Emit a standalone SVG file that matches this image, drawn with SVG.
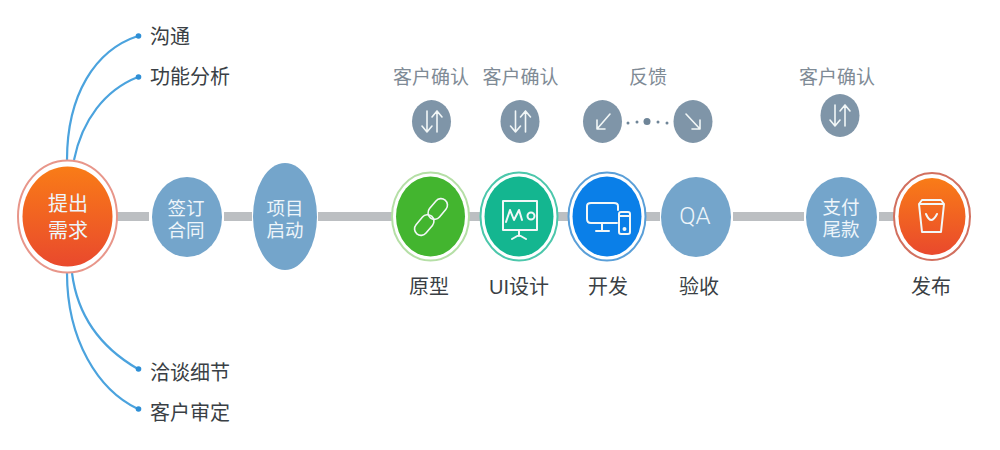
<svg xmlns="http://www.w3.org/2000/svg" width="1000" height="450" viewBox="0 0 1000 450">
<style>
text{font-family:"Liberation Sans","Noto Sans CJK SC",sans-serif;text-anchor:middle;dominant-baseline:central}
.dark{font-size:20px;fill:#3a3f45}
.grey{font-size:19px;fill:#7f8b96}
.wh{font-size:18.500px;fill:#eef5fa}
.left{text-anchor:start}
.bar{stroke:#bcbfc2;stroke-width:9;fill:none}
.cv{stroke:#4ba3de;stroke-width:2.200;fill:none}
.dot{fill:#2e8fd6}
.blue{fill:#74a5cb}
.sm{fill:#7f95a8}
.ic{stroke:#f2f7f7;stroke-width:2;fill:none;stroke-linecap:round;stroke-linejoin:round}
.ar{stroke-width:1.600}
.ring{fill:#fff;stroke-width:2}
</style>
<defs>
<linearGradient id="org" x1="0" y1="0" x2="0" y2="1"><stop offset="0" stop-color="#f97c17"/><stop offset="1" stop-color="#e9492d"/></linearGradient>
</defs>
<rect width="1000" height="450" fill="#fff"/>
<g id="connectors">
<path class="bar" d="M117 216.500H149M224 216.500H252M318 216.500H392M469 216.500H480M558 216.500H568M646 216.500H660M733 216.500H804M879 216.500H895"/>
<path class="cv" d="M67 160C67 95 95 50 138 36"/>
<path class="cv" d="M74 160C82 120 105 90 138 77"/>
<path class="cv" d="M72 273C78 320 105 350 138 369"/>
<path class="cv" d="M67 273C67 340 98 390 138 409"/>
<circle class="dot" cx="138.500" cy="36" r="2.800"/>
<circle class="dot" cx="138.500" cy="77" r="2.800"/>
<circle class="dot" cx="138.500" cy="369" r="2.800"/>
<circle class="dot" cx="138.500" cy="409" r="2.800"/>
</g>
<g id="n-tigong">
<ellipse class="ring" cx="67.500" cy="216.500" rx="49.500" ry="56" stroke="#e8968a"/>
<ellipse cx="67.500" cy="216.500" rx="45" ry="50" fill="url(#org)"/>
<text class="wh" style="font-size:20px" x="68" y="204">提出</text><text class="wh" style="font-size:20px" x="68" y="231">需求</text>
</g>
<g id="n-goutong"><text class="dark left" x="150" y="37">沟通</text></g>
<g id="n-gongneng"><text class="dark left" x="150" y="77">功能分析</text></g>
<g id="n-qiatan"><text class="dark left" x="150" y="373">洽谈细节</text></g>
<g id="n-shending"><text class="dark left" x="150" y="413">客户审定</text></g>
<g id="n-qianding"><ellipse class="blue" cx="187" cy="217" rx="35" ry="40"/><text class="wh" x="186" y="208">签订</text><text class="wh" x="186" y="230">合同</text></g>
<g id="n-xiangmu"><ellipse class="blue" cx="285" cy="216.500" rx="32" ry="53.500"/><text class="wh" x="285" y="208">项目</text><text class="wh" x="285" y="230">启动</text></g>

<g id="n-yuanxing">
<ellipse class="ring" cx="430.500" cy="216.500" rx="38.500" ry="44" stroke="#b5dfa6"/>
<ellipse cx="430.500" cy="216.500" rx="34.500" ry="40" fill="#43b52f"/>
<g class="ic" style="stroke-width:1.600" transform="rotate(40 431 217)"><rect x="424.500" y="195" width="13" height="23" rx="6.500"/><rect x="424.500" y="216" width="13" height="23" rx="6.500"/></g>
<text class="dark" x="429" y="287">原型</text>
</g>
<g id="n-ui">
<ellipse class="ring" cx="519" cy="216.500" rx="38.500" ry="44" stroke="#4cc7ab"/>
<ellipse cx="519" cy="216.500" rx="34.500" ry="40" fill="#14b690"/>
<g class="ic"><rect x="503" y="201" width="34" height="29"/><path d="M506 222L510 210L514 220L519 210L522 220"/><circle cx="531" cy="216" r="3.500"/><path d="M519 230V236M512 239L519 235L526 239"/></g>
<text class="dark" x="519" y="287">UI设计</text>
</g>
<g id="n-kaifa">
<ellipse class="ring" cx="607" cy="216.500" rx="38.500" ry="44" stroke="#5a9fd8"/>
<ellipse cx="607" cy="216.500" rx="34.500" ry="40" fill="#0a7fe8"/>
<g class="ic"><path d="M617 223H591Q587 223 587 219V206Q587 203 591 203H614Q618 203 618 206V210"/><path d="M602 223V231M596 231H609"/><rect x="619" y="212" width="11" height="22" rx="2"/><path d="M619 216H630"/><circle cx="624.500" cy="229" r="1"/></g>
<text class="dark" x="608" y="287">开发</text>
</g>
<g id="n-qa"><ellipse class="blue" cx="696" cy="217" rx="35" ry="40"/><text class="wh" x="695" y="216" style="font-size:24px;font-family:Roboto,sans-serif;font-weight:300">QA</text><text class="dark" x="699" y="287">验收</text></g>
<g id="n-zhifu"><ellipse class="blue" cx="841.500" cy="217" rx="35.500" ry="40"/><text class="wh" x="841" y="207">支付</text><text class="wh" x="841" y="229">尾款</text></g>
<g id="n-fabu">
<ellipse class="ring" cx="932" cy="216.500" rx="38" ry="43.500" stroke="#d2705f"/>
<ellipse cx="932" cy="216.500" rx="33.500" ry="38.500" fill="url(#org)"/>
<g class="ic"><path d="M919 204L922 200H941L944 204L941 232H922ZM919 204H944"/><path d="M926 214Q931 226 937 214"/></g>
<text class="dark" x="931" y="287">发布</text>
</g>

<g id="n-c1"><text class="grey" x="431" y="77">客户确认</text><ellipse class="sm" cx="431.500" cy="121.500" rx="19.500" ry="21.500"/>
<path class="ic ar" d="M427 111V132M422 126L427 132L432 126M437 132V111M432 117L437 111L442 117"/></g>
<g id="n-c2"><text class="grey" x="520.500" y="77">客户确认</text><ellipse class="sm" cx="520" cy="121.500" rx="19.500" ry="21.500"/>
<path class="ic ar" d="M515.500 111V132M510.500 126L515.500 132L520.500 126M525.500 132V111M520.500 117L525.500 111L530.500 117"/></g>
<g id="n-fk"><text class="grey" x="648" y="77">反馈</text>
<ellipse class="sm" cx="602.500" cy="121.500" rx="19.500" ry="21.500"/>
<path class="ic ar" d="M610 114L597 129M597 120V129H605"/>
<ellipse class="sm" cx="693" cy="121.500" rx="19.500" ry="21.500"/>
<path class="ic ar" d="M686 114L700 129M700 120V129H692"/>
<g fill="#6f8598"><circle cx="628" cy="123" r="1.500"/><circle cx="637" cy="122" r="1.500"/><circle cx="647" cy="121.500" r="3.500"/><circle cx="658" cy="122" r="1.500"/><circle cx="667" cy="123" r="1.500"/></g>
</g>
<g id="n-c3"><text class="grey" x="837" y="77">客户确认</text><ellipse class="sm" cx="840" cy="115.500" rx="19.500" ry="21.500"/>
<path class="ic ar" d="M835 105V126M830 120L835 126L840 120M845 126V105M840 111L845 105L850 111"/></g>
</svg>
